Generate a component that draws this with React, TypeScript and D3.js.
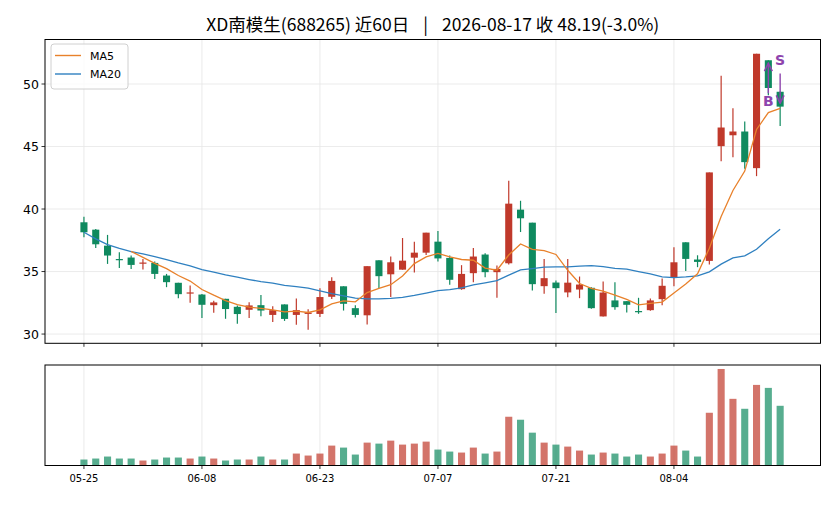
import React from 'react';
import * as d3 from 'd3';

// 60 trading days, 05-25 .. 08-17
const dates = [
  '05-25', '05-26', '05-27', '05-28', '05-29',
  '06-01', '06-02', '06-03', '06-04', '06-05',
  '06-08', '06-09', '06-10', '06-11', '06-12',
  '06-15', '06-16', '06-17', '06-18', '06-22',
  '06-23', '06-24', '06-25', '06-26',
  '06-29', '06-30', '07-01', '07-02', '07-03',
  '07-06', '07-07', '07-08', '07-09', '07-10',
  '07-13', '07-14', '07-15', '07-16', '07-17',
  '07-20', '07-21', '07-22', '07-23', '07-24',
  '07-27', '07-28', '07-29', '07-30', '07-31',
  '08-03', '08-04', '08-05', '08-06', '08-07',
  '08-10', '08-11', '08-12', '08-13', '08-14',
  '08-17',
];

const opens = [
  38.94, 38.35, 37.07, 36.0, 36.12, 35.68, 35.69, 34.68, 34.1, 33.3,
  33.16, 32.31, 32.82, 32.18, 31.94, 32.31, 31.53, 32.37, 31.53, 31.61,
  31.61, 32.98, 33.82, 32.07, 31.5, 35.9, 34.78, 35.15, 36.11, 36.51,
  37.39, 36.09, 33.59, 34.87, 36.36, 34.95, 35.66, 39.95, 38.91, 33.83,
  34.12, 33.33, 33.56, 33.7, 31.41, 32.69, 32.63, 31.84, 31.91, 32.79,
  34.52, 37.34, 35.96, 35.85, 45.03, 45.9, 46.2, 43.27, 51.9, 49.38,
];
const highs = [
  39.39, 38.4, 37.93, 36.54, 36.28, 36.0, 35.8, 34.81, 34.1, 33.88,
  33.21, 32.66, 32.82, 32.29, 32.55, 33.12, 32.23, 32.37, 32.85, 31.99,
  33.66, 34.54, 33.82, 32.31, 35.43, 35.9, 36.2, 37.68, 37.39, 38.11,
  38.24, 36.28, 35.51, 36.89, 36.46, 35.48, 42.26, 40.66, 38.91, 36.01,
  34.28, 36.0, 34.6, 33.75, 34.2, 34.15, 32.63, 32.9, 32.85, 34.44,
  36.94, 37.34, 36.3, 42.93, 50.66, 48.06, 47.0, 52.42, 51.9, 49.4,
];
const lows = [
  37.74, 36.89, 35.61, 35.29, 35.21, 35.16, 34.41, 33.75, 32.87, 32.5,
  31.28, 31.7, 31.22, 30.82, 31.28, 31.42, 30.97, 31.05, 30.75, 30.35,
  31.37, 32.8, 31.88, 31.32, 30.76, 33.67, 32.97, 35.15, 34.93, 36.32,
  35.81, 33.94, 33.54, 34.15, 34.55, 32.9, 35.56, 38.16, 33.48, 33.22,
  31.68, 32.94, 32.87, 32.02, 31.41, 31.94, 31.73, 31.62, 31.86, 32.31,
  33.83, 35.05, 35.35, 35.56, 43.83, 44.15, 43.22, 42.63, 49.1, 46.64,
];
const closes = [
  38.14, 37.18, 36.28, 35.95, 35.53, 35.72, 34.81, 34.15, 33.19, 33.33,
  32.34, 32.53, 32.0, 31.6, 32.29, 31.88, 31.91, 31.21, 31.91, 31.72,
  32.96, 34.25, 32.42, 31.53, 35.43, 34.63, 35.74, 35.87, 36.51, 38.11,
  36.05, 34.34, 34.81, 36.2, 34.95, 35.21, 40.43, 39.26, 33.99, 34.47,
  33.67, 34.11, 33.96, 32.07, 33.32, 32.15, 32.34, 31.76, 32.69, 33.86,
  35.74, 36.01, 35.77, 42.93, 46.52, 46.2, 43.75, 52.42, 49.68, 48.19,
];
// MA20 (it uses history before the window)
const ma20 = [
  38.14, 37.61, 37.15, 36.86, 36.6, 36.41, 36.2, 35.96, 35.69, 35.45,
  35.16, 34.95, 34.73, 34.55, 34.36, 34.19, 34.07, 33.9, 33.8, 33.68,
  33.46, 33.23, 33.06, 32.88, 32.82, 32.82, 32.85, 32.93, 33.09, 33.28,
  33.47, 33.56, 33.7, 33.94, 34.1, 34.28, 34.71, 35.13, 35.24, 35.35,
  35.37, 35.37, 35.43, 35.48, 35.4, 35.25, 35.19, 35.0, 34.81, 34.57,
  34.52, 34.57, 34.65, 34.97, 35.59, 36.09, 36.25, 36.78, 37.63, 38.38,
];
const volumes = [
  6, 7, 9, 7, 7, 5, 6, 8, 8, 7,
  9, 7, 5, 6, 6, 9, 6, 6, 12, 10,
  12, 20, 18, 11, 23, 22, 25, 21, 22, 24,
  16, 14, 13, 18, 12, 14, 49, 46, 33, 23,
  21, 19, 15, 11, 13, 12, 9, 11, 9, 12,
  20, 15, 9, 53, 97, 67, 57, 81, 78, 60,
];
const yTicks = [30, 35, 40, 45, 50];
const xTickIdx = [0, 10, 20, 30, 40, 50];
const buyIdx = 58;
const sellIdx = 59;
const titleParts = ['XD南模生(688265) 近60日', '|', '2026-08-17 收 48.19(-3.0%)'];

const UP = '#c0392b';
const DOWN = '#0f8a5f';
const MA5C = '#e8812b';
const MA20C = '#2f80c0';
const MARK = '#8e44ad';
const GRID = '#e6e6e6';
const FONT = '"DejaVu Sans", "Noto Sans CJK SC", sans-serif';

export default function App() {
  const left = 45, right = 820.5, top = 39.5, bottom = 343.3;
  const vTop = 365, vBottom = 465.5;

  const x = d3.scaleLinear().domain([-3.3, 62.42]).range([left, right]);
  const y = d3.scaleLinear().domain([29.26, 53.56]).range([bottom, top]);
  const yv = d3.scaleLinear().domain([0, 101]).range([vBottom, vTop]);
  const step = x(1) - x(0);
  const bw = step * 0.6;

  const ma5 = closes.map((_, i) => (i < 4 ? null : d3.mean(closes.slice(i - 4, i + 1)) as number));
  const line = d3.line<number | null>()
    .defined(d => d != null)
    .x((_, i) => x(i))
    .y(d => y(d as number));

  return (
    <svg width={836} height={506} style={{ position: 'absolute', left: 0, top: 0, background: '#fff' }}
      fontFamily={FONT}>
      <text x={(left + right) / 2} y={31} textAnchor="middle" fontSize={17.5}
        fontFamily='"Noto Sans CJK SC", "Noto Sans", sans-serif' fill="#000">
        <tspan>{titleParts[0]}</tspan>
        <tspan dx={14}>{titleParts[1]}</tspan>
        <tspan dx={14}>{titleParts[2]}</tspan>
      </text>

      {/* price panel grid */}
      <g stroke={GRID} strokeWidth={0.8}>
        {xTickIdx.map(i => <line key={'gx' + i} x1={x(i)} x2={x(i)} y1={top} y2={bottom} />)}
        {yTicks.map(t => <line key={'gy' + t} x1={left} x2={right} y1={y(t)} y2={y(t)} />)}
        {xTickIdx.map(i => <line key={'vx' + i} x1={x(i)} x2={x(i)} y1={vTop} y2={vBottom} />)}
      </g>

      {/* candles */}
      <g>
        {closes.map((c, i) => {
          const o = opens[i];
          const col = c >= o ? UP : DOWN;
          const yt = y(Math.max(o, c));
          const yb = y(Math.min(o, c));
          return (
            <g key={'c' + i}>
              <line x1={x(i)} x2={x(i)} y1={y(highs[i])} y2={y(lows[i])} stroke={col} strokeWidth={1.2} />
              <rect x={x(i) - bw / 2} y={yt} width={bw} height={Math.max(yb - yt, 1.2)} fill={col} />
            </g>
          );
        })}
      </g>

      <path d={line(ma20) || ''} fill="none" stroke={MA20C} strokeWidth={1.3} />
      <path d={line(ma5) || ''} fill="none" stroke={MA5C} strokeWidth={1.3} />

      {/* B / S marks */}
      <defs>
        <marker id="ah" viewBox="0 0 10 10" refX={9} refY={5} markerWidth={7} markerHeight={7} orient="auto">
          <path d="M1,1 L9,5 L1,9" fill="none" stroke={MARK} strokeWidth={1.6} />
        </marker>
      </defs>
      <line x1={x(buyIdx)} x2={x(buyIdx)} y1={y(lows[buyIdx]) - 2} y2={y(highs[buyIdx]) + 3}
        stroke={MARK} strokeWidth={1.4} markerEnd="url(#ah)" />
      <text x={x(buyIdx)} y={y(lows[buyIdx]) + 10.5} textAnchor="middle" fontSize={14} fontWeight="bold" fill={MARK}>B</text>
      <line x1={x(sellIdx)} x2={x(sellIdx)} y1={y(highs[sellIdx]) - 18} y2={y(closes[sellIdx]) - 3.5}
        stroke={MARK} strokeWidth={1.4} markerEnd="url(#ah)" />
      <text x={x(sellIdx)} y={y(highs[sellIdx]) - 27} textAnchor="middle" fontSize={14} fontWeight="bold" fill={MARK}>S</text>

      {/* price axes */}
      <rect x={left} y={top} width={right - left} height={bottom - top} fill="none" stroke="#000" strokeWidth={1} />
      {yTicks.map(t => (
        <g key={'yt' + t}>
          <line x1={left - 3.5} x2={left} y1={y(t)} y2={y(t)} stroke="#000" strokeWidth={0.8} />
          <text x={left - 6} y={y(t) + 4.5} textAnchor="end" fontSize={12.5} fill="#000">{t}</text>
        </g>
      ))}
      {xTickIdx.map(i => (
        <line key={'xt' + i} x1={x(i)} x2={x(i)} y1={bottom} y2={bottom + 3.5} stroke="#000" strokeWidth={0.8} />
      ))}

      {/* legend */}
      <g>
        <rect x={51} y={44} width={77} height={45} rx={3} fill="#fff" fillOpacity={0.8} stroke="#d0d0d0" strokeWidth={1} />
        <line x1={55} x2={81} y1={55.5} y2={55.5} stroke={MA5C} strokeWidth={1.4} />
        <text x={90} y={59.5} fontSize={11} fill="#000">MA5</text>
        <line x1={55} x2={81} y1={74} y2={74} stroke={MA20C} strokeWidth={1.4} />
        <text x={90} y={78} fontSize={11} fill="#000">MA20</text>
      </g>

      {/* volume */}
      <g>
        {volumes.map((v, i) => (
          <rect key={'v' + i} x={x(i) - bw / 2} y={yv(v)} width={bw} height={vBottom - yv(v)}
            fill={closes[i] >= opens[i] ? UP : DOWN} fillOpacity={0.7} />
        ))}
      </g>
      <rect x={left} y={vTop} width={right - left} height={vBottom - vTop} fill="none" stroke="#000" strokeWidth={1} />
      {xTickIdx.map(i => (
        <g key={'vt' + i}>
          <line x1={x(i)} x2={x(i)} y1={vBottom} y2={vBottom + 3.5} stroke="#000" strokeWidth={0.8} />
          <text x={x(i)} y={vBottom + 16} textAnchor="middle" fontSize={10} fill="#000">{dates[i]}</text>
        </g>
      ))}
    </svg>
  );
}
